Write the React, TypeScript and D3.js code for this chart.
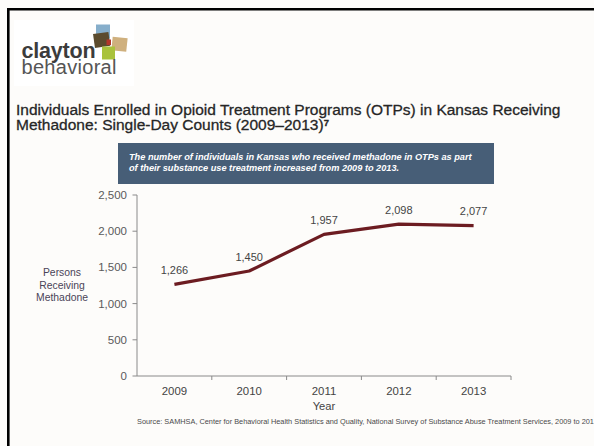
import React from "react";
import * as d3 from "d3";

const years: string[] = ["2009", "2010", "2011", "2012", "2013"];
const persons: number[] = [1266, 1450, 1957, 2098, 2077];
const yTicks: number[] = [0, 500, 1000, 1500, 2000, 2500];
const titleLines: string[] = [
  "Individuals Enrolled in Opioid Treatment Programs (OTPs) in Kansas Receiving",
  "Methadone: Single-Day Counts (2009\u20132013)",
];
const bannerLines: string[] = [
  "The number of individuals in Kansas who received methadone in OTPs as part",
  "of their substance use treatment increased from 2009 to 2013.",
];
const yTitleLines: string[] = ["Persons", "Receiving", "Methadone"];
const sourceText =
  "Source: SAMHSA, Center for Behavioral Health Statistics and Quality, National Survey of Substance Abuse Treatment Services, 2009 to 2013";

const W = 594;
const H = 446;
const FONT = "'Liberation Sans', Arial, Helvetica, sans-serif";

export default function App() {
  const x = d3.scaleBand<string>().domain(years).range([137, 511]).padding(0);
  const y = d3.scaleLinear().domain([0, 2500]).range([376, 195]);
  const line = d3
    .line<number>()
    .x((_, i) => (x(years[i]) as number) + x.bandwidth() / 2)
    .y((d) => y(d));
  const fmt = d3.format(",");
  const axisColor = "#8a8a8a";

  return (
    <svg
      width={W}
      height={H}
      style={{ position: "absolute", left: 0, top: 0, background: "#fdfcfa" }}
      fontFamily={FONT}
    >
      <rect x={0} y={0} width={W} height={H} fill="#fdfcfa" />
      {/* frame */}
      <path d={`M8.3,${H} V9.3 H${W}`} fill="none" stroke="#000" strokeWidth={2.6} />

      {/* logo */}
      <rect x={14} y={20} width={120} height={66} fill="#ffffff" />
      <g>
        <rect x={96} y={24.5} width={14} height={14} fill="#86aecb" />
        <rect x={94} y={33} width={15.5} height={14} fill="#5b4b2e" transform="rotate(-8 101.5 40.5)" />
        <rect x={112} y={37.5} width={15} height={13.5} fill="#cfb07e" transform="rotate(6 119.5 44)" />
        <rect x={102} y={46.5} width={13} height={13} fill="#a9c23c" />
        <rect x={106.5} y={39.5} width={4.5} height={5.5} fill="#b3372a" />
      </g>
      <text x={21.5} y={58} fontSize={21.5} fontWeight="bold" fill="#3c3c3c" letterSpacing={-0.2}>
        clayton
      </text>
      <text x={21.5} y={74} fontSize={20} fill="#555555" letterSpacing={0.3}>
        behavioral
      </text>

      {/* title */}
      <g fill="#262626" stroke="#262626" strokeWidth={0.3}>
        <text x={16} y={114.5} fontSize={15.5}>
          {titleLines[0]}
        </text>
        <text x={16} y={130} fontSize={15.5}>
          {titleLines[1]}
          <tspan fontSize={9.5} dy={-4.5} fontWeight="bold">7</tspan>
        </text>
      </g>

      {/* banner */}
      <rect x={118} y={143} width={376} height={41} fill="#475e77" />
      {bannerLines.map((t, i) => (
        <text
          key={i}
          x={129}
          y={159.5 + i * 11}
          fontSize={9.2}
          fontStyle="italic"
          fontWeight="bold"
          fill="#ffffff"
        >
          {t}
        </text>
      ))}

      {/* y axis */}
      <line x1={137} x2={137} y1={y(2500)} y2={y(0)} stroke={axisColor} strokeWidth={1} />
      {yTicks.map((t) => (
        <g key={t}>
          <line x1={132.5} x2={137} y1={y(t)} y2={y(t)} stroke={axisColor} strokeWidth={1} />
          <text x={127} y={y(t) + 4} fontSize={11.5} fill="#5a5a5a" textAnchor="end">
            {fmt(t)}
          </text>
        </g>
      ))}
      {yTitleLines.map((t, i) => (
        <text key={t} x={62} y={276 + i * 12.5} fontSize={10.4} fill="#4a4458" textAnchor="middle">
          {t}
        </text>
      ))}

      {/* x axis */}
      <line x1={137} x2={511} y1={y(0)} y2={y(0)} stroke={axisColor} strokeWidth={1} />
      {years.map((yr) => {
        const bx = (x(yr) as number) + x.bandwidth();
        const cx = (x(yr) as number) + x.bandwidth() / 2;
        return (
          <g key={yr}>
            <line x1={bx} x2={bx} y1={y(0)} y2={y(0) + 4} stroke={axisColor} strokeWidth={1} />
            <text x={cx} y={395} fontSize={11.4} fill="#444" textAnchor="middle">
              {yr}
            </text>
          </g>
        );
      })}
      <text x={324} y={410} fontSize={11.2} fill="#444" textAnchor="middle">
        Year
      </text>

      {/* line */}
      <path
        d={line(persons) as string}
        fill="none"
        stroke="#6c1c21"
        strokeWidth={3.2}
        strokeLinejoin="round"
        strokeLinecap="butt"
      />
      {persons.map((v, i) => (
        <text
          key={i}
          x={(x(years[i]) as number) + x.bandwidth() / 2}
          y={y(v) - 10.5}
          fontSize={11}
          fill="#444"
          textAnchor="middle"
        >
          {fmt(v)}
        </text>
      ))}

      {/* source */}
      <text
        x={137}
        y={424}
        fontSize={7.8}
        fill="#4a4a4a"
        textLength={461}
        lengthAdjust="spacingAndGlyphs"
      >
        {sourceText}
      </text>
    </svg>
  );
}
